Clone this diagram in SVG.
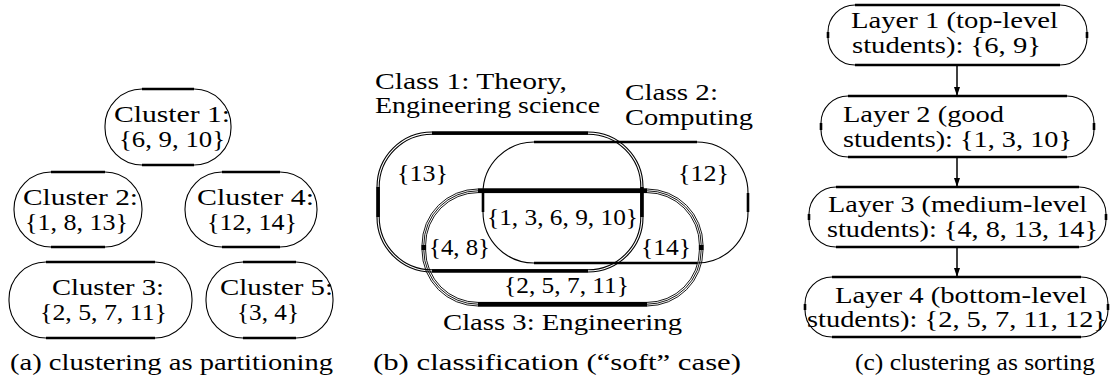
<svg xmlns="http://www.w3.org/2000/svg" width="1112" height="381" viewBox="0 0 1112 381" font-family="'Liberation Serif', 'Times New Roman', serif">
  <style>
    .t { font-family: "Liberation Serif", "Times New Roman", serif; font-size: 24px; fill: #000; }
    .o { fill: none; stroke: #000; stroke-width: 1.1; }
    .s { fill: none; stroke: #000; stroke-width: 2.6; }
    .s2 { fill: none; stroke: #000; stroke-width: 3.4; }
    .s3 { fill: none; stroke: #000; stroke-width: 4.6; }
    .o3 { fill: none; stroke: #000; stroke-width: 0.9; }
    .c { fill: none; stroke: #000; stroke-width: 1.5; }
  </style>
  <defs>
    <marker id="ah" viewBox="0 0 10 10" refX="10" refY="5" markerWidth="9" markerHeight="6" markerUnits="userSpaceOnUse" orient="auto" preserveAspectRatio="none">
      <path d="M0,0 L10,5 L0,10 z" fill="#000"/>
    </marker>
  </defs>
  <rect width="1112" height="381" fill="#fff"/>

  <!-- (a) clusters as a partition -->
  <g id="cluster1">
    <rect class="o" x="105" y="89" width="126" height="76" rx="37"/>
    <path class="s" d="M142 89 H194 M142 165 H194"/>
    <text class="t" x="114" y="122" textLength="116" lengthAdjust="spacingAndGlyphs">Cluster 1:</text>
    <text class="t" x="119" y="147" textLength="106" lengthAdjust="spacingAndGlyphs">{6, 9, 10}</text>
  </g>
  <g id="cluster2">
    <rect class="o" x="14" y="172" width="128" height="75" rx="37"/>
    <path class="s" d="M51 172 H105 M51 247 H105"/>
    <text class="t" x="23" y="205" textLength="115" lengthAdjust="spacingAndGlyphs">Cluster 2:</text>
    <text class="t" x="25" y="230" textLength="103" lengthAdjust="spacingAndGlyphs">{1, 8, 13}</text>
  </g>
  <g id="cluster4">
    <rect class="o" x="185" y="172" width="132" height="75" rx="37"/>
    <path class="s" d="M222 172 H280 M222 247 H280"/>
    <text class="t" x="197" y="205" textLength="117" lengthAdjust="spacingAndGlyphs">Cluster 4:</text>
    <text class="t" x="207" y="230" textLength="90" lengthAdjust="spacingAndGlyphs">{12, 14}</text>
  </g>
  <g id="cluster3">
    <rect class="o" x="9" y="262" width="183" height="76" rx="37"/>
    <path class="s" d="M46 262 H155 M46 338 H155"/>
    <text class="t" x="52" y="295" textLength="112" lengthAdjust="spacingAndGlyphs">Cluster 3:</text>
    <text class="t" x="40" y="320" textLength="127" lengthAdjust="spacingAndGlyphs">{2, 5, 7, 11}</text>
  </g>
  <g id="cluster5">
    <rect class="o" x="206" y="262" width="127" height="76" rx="37"/>
    <path class="s" d="M243 262 H296 M243 338 H296"/>
    <text class="t" x="220" y="295" textLength="113" lengthAdjust="spacingAndGlyphs">Cluster 5:</text>
    <text class="t" x="237" y="320" textLength="62" lengthAdjust="spacingAndGlyphs">{3, 4}</text>
  </g>
  <text class="t" x="10" y="370" textLength="323" lengthAdjust="spacingAndGlyphs">(a) clustering as partitioning</text>

  <!-- (b) overlapping classes -->
  <g id="class2">
    <rect class="o" x="483" y="142" width="265" height="121" rx="51"/>
    <path class="s" d="M534 142 H697 M534 263 H697 M483 193 V212 M748 193 V212"/>
    <text class="t" x="625" y="100" textLength="93" lengthAdjust="spacingAndGlyphs">Class 2:</text>
    <text class="t" x="625" y="125" textLength="128" lengthAdjust="spacingAndGlyphs">Computing</text>
    <text class="t" x="678" y="181" textLength="51" lengthAdjust="spacingAndGlyphs">{12}</text>
  </g>
  <g id="class1">
    <rect class="o" x="377" y="132" width="266" height="140" rx="55"/>
    <rect class="o" x="379.2" y="134.2" width="261.6" height="135.6" rx="52.8"/>
    <path class="s2" d="M432 133.1 H588 M432 270.9 H588 M378.1 187 V217 M641.9 187 V217"/>
    <text class="t" x="375" y="89" textLength="192" lengthAdjust="spacingAndGlyphs">Class 1: Theory,</text>
    <text class="t" x="375" y="113" textLength="225" lengthAdjust="spacingAndGlyphs">Engineering science</text>
    <text class="t" x="397" y="181" textLength="51" lengthAdjust="spacingAndGlyphs">{13}</text>
  </g>
  <g id="class3">
    <rect class="o3" x="422" y="189" width="281" height="117" rx="56"/>
    <rect class="o3" x="423.8" y="190.8" width="277.4" height="113.4" rx="54.2"/>
    <rect class="o3" x="425.6" y="192.6" width="273.8" height="109.8" rx="52.4"/>
    <path class="s3" d="M478 190.8 H647 M478 304.2 H647 M423.8 245 V250 M701.2 245 V250"/>
    <text class="t" x="443" y="330" textLength="239" lengthAdjust="spacingAndGlyphs">Class 3: Engineering</text>
  </g>
  <g id="overlaps">
    <text class="t" x="487" y="225" textLength="151" lengthAdjust="spacingAndGlyphs">{1, 3, 6, 9, 10}</text>
    <text class="t" x="429" y="255" textLength="61" lengthAdjust="spacingAndGlyphs">{4, 8}</text>
    <text class="t" x="641" y="255" textLength="50" lengthAdjust="spacingAndGlyphs">{14}</text>
    <text class="t" x="504" y="293" textLength="125" lengthAdjust="spacingAndGlyphs">{2, 5, 7, 11}</text>
  </g>
  <text class="t" x="373" y="370" textLength="368" lengthAdjust="spacingAndGlyphs">(b) classification (“soft” case)</text>

  <!-- (c) layers as a sorted order -->
  <g id="layer1">
    <rect class="o" x="828" y="5" width="259" height="60" rx="27"/>
    <path class="s" d="M855 5 H1060 M855 65 H1060 M828 32 V38 M1087 32 V38"/>
    <text class="t" x="851" y="28" textLength="207" lengthAdjust="spacingAndGlyphs">Layer 1 (top-level</text>
    <text class="t" x="852" y="53" textLength="189" lengthAdjust="spacingAndGlyphs">students): {6, 9}</text>
  </g>
  <g id="layer2">
    <rect class="o" x="821" y="96" width="273" height="61" rx="27"/>
    <path class="s" d="M848 96 H1067 M848 157 H1067 M821 123 V130 M1094 123 V130"/>
    <text class="t" x="843" y="122" textLength="161" lengthAdjust="spacingAndGlyphs">Layer 2 (good</text>
    <text class="t" x="843" y="147" textLength="229" lengthAdjust="spacingAndGlyphs">students): {1, 3, 10}</text>
  </g>
  <g id="layer3">
    <rect class="o" x="809" y="187" width="297" height="60" rx="27"/>
    <path class="s" d="M836 187 H1079 M836 247 H1079 M809 214 V220 M1106 214 V220"/>
    <text class="t" x="828" y="212" textLength="259" lengthAdjust="spacingAndGlyphs">Layer 3 (medium-level</text>
    <text class="t" x="827" y="237" textLength="271" lengthAdjust="spacingAndGlyphs">students): {4, 8, 13, 14}</text>
  </g>
  <g id="layer4">
    <rect class="o" x="805" y="277" width="303" height="60" rx="27"/>
    <path class="s" d="M832 277 H1081 M832 337 H1081 M805 304 V310 M1108 304 V310"/>
    <text class="t" x="835" y="303" textLength="252" lengthAdjust="spacingAndGlyphs">Layer 4 (bottom-level</text>
    <text class="t" x="807" y="327" textLength="300" lengthAdjust="spacingAndGlyphs">students): {2, 5, 7, 11, 12}</text>
  </g>
  <g id="connectors">
    <line class="c" x1="957" y1="65" x2="957" y2="96" marker-end="url(#ah)"/>
    <line class="c" x1="957" y1="157" x2="957" y2="187" marker-end="url(#ah)"/>
    <line class="c" x1="957" y1="247" x2="957" y2="277" marker-end="url(#ah)"/>
  </g>
  <text class="t" x="855" y="370" textLength="240" lengthAdjust="spacingAndGlyphs">(c) clustering as sorting</text>
</svg>
